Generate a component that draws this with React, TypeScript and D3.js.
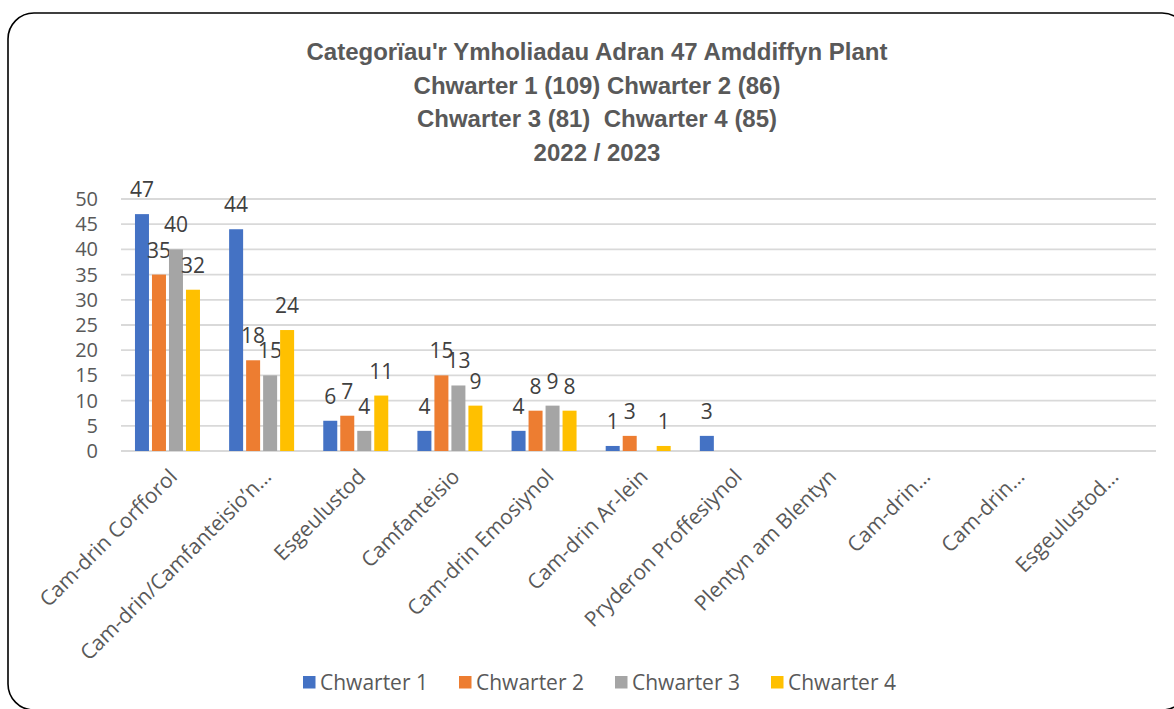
import React from "react";
import * as d3 from "d3";

const categories = [
  "Cam-drin Corfforol",
  "Cam-drin/Camfanteisio’n…",
  "Esgeulustod",
  "Camfanteisio",
  "Cam-drin Emosiynol",
  "Cam-drin Ar-lein",
  "Pryderon Proffesiynol",
  "Plentyn am Blentyn",
  "Cam-drin…",
  "Cam-drin…",
  "Esgeulustod…",
];
const seriesNames = ["Chwarter 1", "Chwarter 2", "Chwarter 3", "Chwarter 4"];
const q1: (number | null)[] = [47, 44, 6, 4, 4, 1, 3, null, null, null, null];
const q2: (number | null)[] = [35, 18, 7, 15, 8, 3, null, null, null, null, null];
const q3: (number | null)[] = [40, 15, 4, 13, 9, null, null, null, null, null, null];
const q4: (number | null)[] = [32, 24, 11, 9, 8, 1, null, null, null, null, null];
const seriesValues = [q1, q2, q3, q4];
const colors = ["#4472C4", "#ED7D31", "#A5A5A5", "#FFC000"];
const yTicks = [0, 5, 10, 15, 20, 25, 30, 35, 40, 45, 50];
const titleLines = [
  "Categorïau'r Ymholiadau Adran 47 Amddiffyn Plant",
  "Chwarter 1 (109) Chwarter 2 (86)",
  "Chwarter 3 (81)  Chwarter 4 (85)",
  "2022 / 2023",
];

const W = 1174;
const H = 709;
const bodyFont = "'Open Sans', 'Noto Sans', sans-serif";

export default function App() {
  const x0 = d3
    .scaleBand<number>()
    .domain(categories.map((_, i) => i))
    .range([120.4, 1156])
    .paddingInner(0)
    .paddingOuter(0);
  const x1 = d3
    .scaleBand<number>()
    .domain(seriesNames.map((_, i) => i))
    .range([-34, 34])
    .paddingInner(3 / 17)
    .paddingOuter(1.5 / 17);
  const y = d3.scaleLinear().domain([0, 50]).range([451, 199]);
  const bw = x1.bandwidth();

  return (
    <svg
      width={W}
      height={H}
      style={{ position: "absolute", left: 0, top: 0, background: "#fff" }}
    >
      <rect x={0} y={0} width={W} height={H} fill="#fff" />
      <rect
        x={8}
        y={13}
        width={1180}
        height={697}
        rx={26}
        ry={26}
        fill="#fff"
        stroke="#000"
        strokeWidth={1.6}
      />
      {titleLines.map((t, i) => (
        <text
          key={i}
          x={597}
          y={60 + i * 33.5}
          textAnchor="middle"
          fontFamily="'Liberation Sans Narrow', 'Liberation Sans', Arial, sans-serif"
          fontWeight="bold"
          fontSize={24}
          fill="#595959"
          style={{ whiteSpace: "pre" }}
        >
          {t}
        </text>
      ))}
      {yTicks.map((t) => (
        <g key={t}>
          <line
            x1={121}
            x2={1156}
            y1={y(t)}
            y2={y(t)}
            stroke="#D9D9D9"
            strokeWidth={1.8}
          />
          <text
            x={98}
            y={y(t) + 7}
            textAnchor="end"
            fontFamily={bodyFont}
            fontSize={20}
            fill="#595959"
          >
            {t}
          </text>
        </g>
      ))}
      {categories.map((c, ci) => {
        const cx = (x0(ci) as number) + x0.bandwidth() / 2;
        return (
          <g key={ci}>
            {seriesValues.map((vals, si) => {
              const v = vals[ci];
              if (v == null) return null;
              const bx = cx + (x1(si) as number);
              return (
                <g key={si}>
                  <rect
                    x={bx}
                    y={y(v)}
                    width={bw}
                    height={y(0) - y(v)}
                    fill={colors[si]}
                  />
                  <text
                    x={bx + bw / 2}
                    y={y(v) - 17}
                    textAnchor="middle"
                    fontFamily={bodyFont}
                    fontSize={21}
                    fill="#404040"
                  >
                    {v}
                  </text>
                </g>
              );
            })}
            <text
              transform={`translate(${cx + 11},${478}) rotate(-45)`}
              textAnchor="end"
              fontFamily={bodyFont}
              fontSize={21}
              fill="#595959"
            >
              {c}
            </text>
          </g>
        );
      })}
      {seriesNames.map((s, i) => (
        <g key={s} transform={`translate(${303 + i * 156},0)`}>
          <rect x={0} y={676} width={12.5} height={12.5} fill={colors[i]} />
          <text
            x={17}
            y={690}
            fontFamily={bodyFont}
            fontSize={21}
            fill="#595959"
          >
            {s}
          </text>
        </g>
      ))}
    </svg>
  );
}
